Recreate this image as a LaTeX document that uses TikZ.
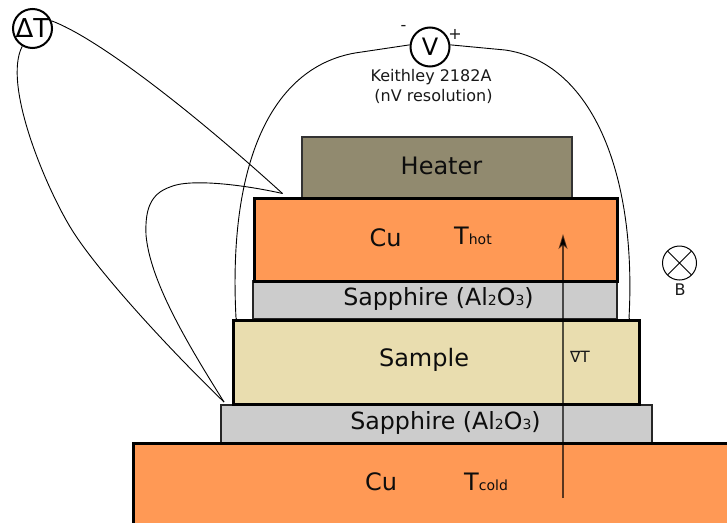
\documentclass[tikz,border=0pt]{standalone}
\usepackage{fontspec}
\setmainfont{DejaVu Sans}
\newcommand{\fs}[1]{\fontsize{#1}{#1}\selectfont}
\newcommand{\subt}[1]{{\fs{14}#1}}
\definecolor{cuorange}{HTML}{FF9955}
\definecolor{heatercol}{HTML}{918A6F}
\definecolor{sapph}{HTML}{CCCCCC}
\definecolor{samplecol}{HTML}{E9DDAF}
\tikzset{
  layer/.style={draw=#1,anchor=north west,inner sep=0pt,outer sep=0pt},
  lab/.style={inner sep=0pt,text=black!95,font=\fs{24}},
  sapphlab/.style={inner sep=0pt,text=black!95,font=\fs{23.7}},
  small/.style={inner sep=0pt,text=black!90,font=\fs{16}},
  instr/.style={draw=black,line width=2pt,circle,fill=white,inner sep=0pt,minimum size=39pt},
  wire/.style={draw=black,line width=0.9pt},
  gradarrow/.style={draw=black,draw opacity=0.65,line width=1.6pt,-{Stealth[length=15pt,width=9pt,inset=4pt]}}
}
\usetikzlibrary{arrows.meta}
\begin{document}
\begin{tikzpicture}[x=1pt,y=-1pt]
\clip (0,0) rectangle (727,522);
\fill[white] (0,0) rectangle (727,522);
% layers
\node[layer=black!80,line width=2pt,fill=heatercol,minimum width=270pt,minimum height=61pt] (heater) at (302,136.5) {};
\node[layer=black!85,line width=2pt,fill=sapph,minimum width=364pt,minimum height=38pt] (sapA) at (253,281) {};
\node[layer=black!85,line width=2pt,fill=sapph,minimum width=431pt,minimum height=39pt] (sapB) at (221,405) {};
\node[layer=black,line width=3pt,fill=cuorange,minimum width=363pt,minimum height=83pt] (cuhot) at (254,198) {};
\node[layer=black,line width=3pt,fill=samplecol,minimum width=406pt,minimum height=84pt] (sample) at (233,320) {};
\node[layer=black,line width=3pt,fill=cuorange,minimum width=620pt,minimum height=100pt] (cucold) at (133.5,443.5) {};
% labels
\node[lab] (lheater) at (441.5,166) {Heater};
\node[lab] (lcuh) at (385.5,237.5) {Cu};
\node[lab,anchor=base west] (lthot) at (454,244) {T\subt{hot}};
\node[sapphlab] (lsa) at (438.5,299) {Sapphire (Al\subt{2}O\subt{3})};
\node[lab] (lsample) at (424,360) {Sample};
\node[inner sep=0pt,font=\fs{15.5},text=black!90] (lgrad) at (580,357) {∇T};
\node[sapphlab] (lsb) at (445.5,423) {Sapphire (Al\subt{2}O\subt{3})};
\node[lab] (lcuc) at (381,482) {Cu};
\node[lab,anchor=base west] (ltc) at (464,490) {T\subt{cold}};
% instruments
\node[instr,font=\fs{24}] (volt) at (430,47) {V};
\node[instr,font=\fs{26}] (dt) at (32.5,28.5) {ΔT};
\node[small] (lminus) at (403.5,28) {-};
\node[small] (lplus) at (455,34) {+};
\node[small] (lk1) at (431,77) {Keithley 2182A};
\node[small] (lk2) at (433.5,96.5) {(nV resolution)};
% field symbol
\node[draw=black,line width=1pt,circle,inner sep=0pt,minimum size=34pt,path picture={
  \draw[line width=1pt] (path picture bounding box.north west) -- (path picture bounding box.south east)
    (path picture bounding box.north east) -- (path picture bounding box.south west);}] (bsym) at (679.5,263) {};
\node[small] (lb) at (680,289.5) {B};
% wires
\coordinate (tophot) at (282.5,193.5);
\coordinate (topcold) at (224,402);
\coordinate (endvl) at (236.5,319);
\coordinate (endvr) at (629.5,319);
\draw[wire] (volt.174) -- (355,53) .. controls (270,68) and (228,165) .. (236,318) -- (endvl);
\draw[wire] (volt.6) -- (505,50) .. controls (590,62) and (637,170) .. (629,318) -- (endvr);
\draw[wire] (dt.22) .. controls (95,37) and (185,105) .. (tophot);
\draw[wire] (dt.240) .. controls (2,85) and (47,190) .. (72,230) .. controls (97,270) and (165,345) .. (topcold);
\draw[wire] (tophot) .. controls (245,185) and (190,178) .. (170,187) .. controls (150,194) and (145,210) .. (146,235) .. controls (150,280) and (185,340) .. (topcold);
\coordinate (arrtail) at (563,498);
\coordinate (arrhead) at (563,234);
\draw[gradarrow] (arrtail) -- (arrhead);
\end{tikzpicture}
\end{document}
